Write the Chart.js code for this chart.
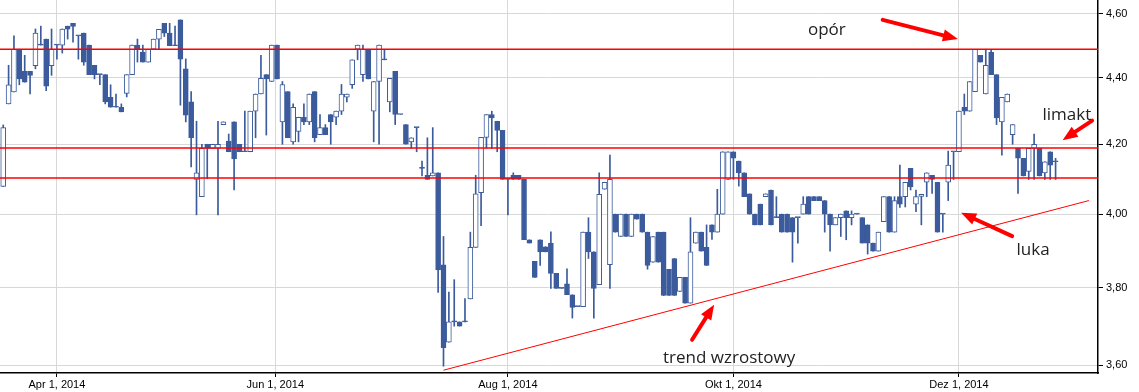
<!DOCTYPE html>
<html><head><meta charset="utf-8">
<script src="https://cdn.jsdelivr.net/npm/chart.js@4.4.1/dist/chart.umd.min.js"></script>
<style>html,body{margin:0;padding:0;background:#fff}canvas{display:block}</style>
</head><body>
<canvas id="c" width="1139" height="392"></canvas>
<script>
// Daily candles (trading-day index 0 = 18 Mar 2014)
const openP = [
4.078,4.32,4.356,4.488,4.419,4.419,4.437,4.501,4.52,4.437,
4.501,4.501,4.561,4.57,4.53,4.539,4.501,4.438,4.409,4.409,
4.34,4.31,4.31,4.352,4.409,4.501,4.479,4.448,4.488,4.52,
4.57,4.539,4.499,4.581,4.427,4.326,4.098,4.049,4.2,4.188,
4.188,4.258,4.209,4.266,4.2,4.178,4.178,4.298,4.35,4.409,
4.388,4.501,4.266,4.357,4.207,4.238,4.28,4.266,4.357,4.228,
4.249,4.288,4.28,4.298,4.34,4.378,4.488,4.409,4.488,4.298,
4.388,4.455,4.326,4.419,4.288,4.258,4.207,4.249,4.13,4.11,
4.108,4.117,3.861,3.658,3.71,3.71,3.71,3.77,3.908,4.06,
4.22,4.288,4.268,4.241,4.098,4.11,4.11,4.098,3.929,3.87,
3.929,3.91,3.92,3.838,3.798,3.81,3.781,3.75,3.75,3.95,
3.896,3.808,4.07,3.861,4.0,3.938,4.0,3.938,4.0,4.0,
3.95,3.868,3.95,3.95,3.849,3.878,3.79,3.827,3.759,3.92,
3.95,3.908,3.97,3.95,4.0,4.098,4.178,4.151,4.117,4.057,
4.0,4.028,4.049,4.068,3.99,4.0,4.0,3.99,3.99,4.0,
4.049,4.049,4.049,4.038,4.0,3.97,3.99,4.009,3.99,4.0,
3.99,3.97,3.92,3.898,3.979,4.049,3.95,4.049,4.049,4.13,
4.028,4.05,4.09,4.11,4.09,4.0,4.09,4.178,4.178,4.31,
4.298,4.357,4.469,4.35,4.478,4.409,4.266,4.326,4.228,4.188,
4.159,4.121,4.188,4.188,4.117,4.178,4.149];
const highP = [
4.257,4.438,4.53,4.488,4.469,4.419,4.552,4.561,4.52,4.552,
4.501,4.552,4.561,4.57,4.53,4.539,4.501,4.438,4.409,4.409,
4.378,4.35,4.32,4.409,4.501,4.52,4.501,4.488,4.52,4.551,
4.57,4.57,4.561,4.581,4.458,4.357,4.268,4.2,4.2,4.2,
4.268,4.266,4.23,4.266,4.2,4.298,4.298,4.35,4.469,4.409,
4.501,4.501,4.388,4.357,4.32,4.28,4.32,4.35,4.357,4.288,
4.258,4.288,4.298,4.379,4.35,4.455,4.501,4.501,4.488,4.388,
4.501,4.488,4.398,4.419,4.288,4.258,4.219,4.249,4.151,4.219,
4.249,4.117,3.938,3.788,3.821,3.71,3.771,3.95,4.11,4.22,
4.288,4.298,4.268,4.241,4.098,4.117,4.11,4.098,3.929,3.87,
3.929,3.91,3.951,3.838,3.798,3.85,3.781,3.75,3.95,3.99,
3.896,4.117,4.09,4.168,4.0,4.0,4.0,4.0,4.0,4.0,
3.95,3.938,3.95,3.95,3.849,3.878,3.827,3.827,3.99,3.95,
3.95,3.97,3.97,4.07,4.178,4.178,4.178,4.151,4.117,4.057,
4.0,4.028,4.057,4.068,4.049,4.0,4.0,3.99,3.99,4.049,
4.049,4.049,4.049,4.038,4.0,3.99,4.0,4.009,4.009,4.0,
3.99,3.97,3.92,3.95,4.049,4.049,4.049,4.139,4.09,4.13,
4.068,4.056,4.117,4.11,4.09,4.0,4.18,4.178,4.298,4.35,
4.388,4.488,4.469,4.488,4.488,4.409,4.34,4.35,4.258,4.188,
4.159,4.188,4.23,4.188,4.149,4.178,4.159];
const lowP = [
4.078,4.32,4.356,4.378,4.386,4.35,4.427,4.501,4.36,4.407,
4.457,4.476,4.52,4.51,4.457,4.438,4.409,4.396,4.378,4.32,
4.31,4.31,4.296,4.341,4.409,4.448,4.448,4.448,4.488,4.488,
4.528,4.499,4.499,4.316,4.266,4.134,3.998,4.049,4.1,4.188,
3.998,4.258,4.178,4.068,4.178,4.178,4.178,4.219,4.35,4.227,
4.388,4.396,4.2,4.219,4.2,4.207,4.258,4.258,4.207,4.228,
4.228,4.2,4.258,4.288,4.326,4.367,4.455,4.388,4.396,4.207,
4.2,4.455,4.296,4.258,4.288,4.2,4.188,4.178,4.108,4.098,
4.108,3.787,3.597,3.658,3.699,3.699,3.71,3.77,3.908,3.968,
4.188,4.188,4.178,4.098,3.998,4.098,4.098,3.929,3.92,3.827,
3.859,3.896,3.798,3.798,3.798,3.781,3.72,3.75,3.75,3.878,
3.72,3.808,4.07,3.798,3.95,3.938,3.938,3.938,3.986,3.95,
3.849,3.868,3.868,3.779,3.779,3.779,3.79,3.759,3.759,3.92,
3.898,3.859,3.93,3.95,4.0,4.098,4.098,4.079,4.049,4.0,
3.97,3.97,4.049,3.97,3.99,3.95,3.95,3.868,3.92,4.0,
4.0,4.038,4.038,3.95,3.898,3.97,3.938,3.929,3.97,4.0,
3.92,3.89,3.898,3.898,3.979,3.95,3.95,4.019,4.02,4.068,
4.007,3.97,4.049,4.058,3.95,3.95,4.038,4.098,4.178,4.288,
4.298,4.357,4.448,4.35,4.409,4.258,4.168,4.326,4.2,4.058,
4.108,4.098,4.098,4.108,4.098,4.098,4.098];
const closeP = [
4.249,4.378,4.488,4.396,4.386,4.407,4.539,4.501,4.374,4.488,
4.501,4.552,4.551,4.56,4.53,4.448,4.409,4.409,4.409,4.326,
4.31,4.31,4.296,4.409,4.501,4.488,4.448,4.488,4.52,4.551,
4.539,4.499,4.499,4.457,4.286,4.219,4.117,4.188,4.188,4.2,
4.2,4.266,4.178,4.157,4.178,4.178,4.298,4.35,4.398,4.396,
4.501,4.396,4.379,4.219,4.31,4.28,4.266,4.35,4.219,4.249,
4.228,4.266,4.298,4.35,4.35,4.455,4.501,4.488,4.396,4.388,
4.501,4.455,4.398,4.288,4.288,4.2,4.219,4.249,4.13,4.098,
4.117,3.847,3.644,3.71,3.71,3.699,3.71,3.908,4.057,4.22,
4.288,4.278,4.241,4.098,4.098,4.098,4.098,3.929,3.92,3.827,
3.896,3.896,3.838,3.798,3.798,3.781,3.748,3.75,3.95,3.896,
3.798,4.056,4.09,4.098,3.95,4.0,3.938,4.0,3.986,3.95,
3.859,3.938,3.868,3.779,3.779,3.779,3.827,3.759,3.896,3.95,
3.898,3.859,3.95,4.0,4.178,4.178,4.159,4.117,4.049,4.0,
3.97,3.97,4.057,3.97,3.99,3.95,3.95,3.95,3.99,4.028,
4.0,4.038,4.038,4.0,3.97,3.99,4.0,3.99,4.0,4.0,
3.92,3.92,3.898,3.95,4.049,3.95,4.038,4.028,4.09,4.077,
4.049,4.056,4.117,4.098,3.95,4.0,4.139,4.178,4.298,4.298,
4.388,4.488,4.448,4.438,4.409,4.278,4.34,4.35,4.258,4.159,
4.108,4.188,4.2,4.108,4.149,4.139,4.149];

// Axis ticks
const xTickAt = [10, 50.67, 94, 136, 178];
const xTickLabels = ["Apr 1, 2014", "Jun 1, 2014", "Aug 1, 2014", "Okt 1, 2014", "Dez 1, 2014"];
const yTickValues = [3.6, 3.8, 4.0, 4.2, 4.4, 4.6];

// Horizontal levels and trend line
const levels = [4.488, 4.189, 4.102];
const trendX = [82, 202.2];
const trendY = [3.587, 4.038];

// Annotations (data coordinates)
const notes = [
  {text: "opór", x: 153.4, y: 4.533},
  {text: "limakt", x: 198.1, y: 4.271},
  {text: "luka", x: 191.8, y: 3.888},
  {text: "trend wzrostowy", x: 135.2, y: 3.604}
];
const arrows = [
  {x1: 163.8, y1: 4.581, x2: 177.8, y2: 4.52},
  {x1: 202.8, y1: 4.27, x2: 197.3, y2: 4.212},
  {x1: 187.9, y1: 3.939, x2: 178.4, y2: 4.004},
  {x1: 128.3, y1: 3.664, x2: 132.4, y2: 3.755}
];

const X_MIN = -0.6, X_MAX = 203.9, Y_MIN = 3.58, Y_MAX = 4.645;
const BLUE = '#3b5b9c';

const idx = openP.map((_, i) => i);
const bodyData = idx.map(i => ({x: i, y: [openP[i], closeP[i]]}));
const wickData = idx.map(i => ({x: i, y: [lowP[i], highP[i]]}));
const bodyFill = idx.map(i => closeP[i] > openP[i] ? '#ffffff' : BLUE);

const levelSets = levels.map(v => ({
  type: 'line', data: [{x: X_MIN, y: v}, {x: X_MAX, y: v}],
  borderColor: '#ff0000', borderWidth: 1.4, pointRadius: 0, order: -1
}));

const annotPlugin = {
  id: 'annot',
  afterDatasetsDraw(chart) {
    const ctx = chart.ctx, xs = chart.scales.x, ys = chart.scales.y;
    ctx.save();
    ctx.fillStyle = '#ff0000';
    ctx.strokeStyle = '#ff0000';
    ctx.lineCap = 'round';
    arrows.forEach(a => {
      const x1 = xs.getPixelForValue(a.x1), y1 = ys.getPixelForValue(a.y1);
      const x2 = xs.getPixelForValue(a.x2), y2 = ys.getPixelForValue(a.y2);
      const ang = Math.atan2(y2 - y1, x2 - x1);
      const hl = 15, hw = 6;
      const bx = x2 - hl * Math.cos(ang), by = y2 - hl * Math.sin(ang);
      ctx.lineWidth = 4;
      ctx.beginPath(); ctx.moveTo(x1, y1); ctx.lineTo(bx, by); ctx.stroke();
      ctx.beginPath();
      ctx.moveTo(x2, y2);
      ctx.lineTo(bx + hw * Math.sin(ang), by - hw * Math.cos(ang));
      ctx.lineTo(bx - hw * Math.sin(ang), by + hw * Math.cos(ang));
      ctx.closePath(); ctx.fill();
    });
    ctx.fillStyle = '#222222';
    ctx.font = '17px "Open Sans"';
    ctx.textAlign = 'center';
    ctx.textBaseline = 'alphabetic';
    notes.forEach(n => {
      ctx.fillText(n.text, xs.getPixelForValue(n.x), ys.getPixelForValue(n.y));
    });
    ctx.restore();
  }
};

new Chart(document.getElementById('c'), {
  type: 'bar',
  data: {
    datasets: [
      {type: 'bar', data: bodyData, backgroundColor: bodyFill, borderColor: BLUE,
       borderWidth: 1, borderSkipped: false, barThickness: 5, minBarLength: 1,
       grouped: false, order: 0},
      {type: 'bar', data: wickData, backgroundColor: BLUE, borderWidth: 0,
       barThickness: 1, grouped: false, order: 1},
      ...levelSets,
      {type: 'line', data: [{x: trendX[0], y: trendY[0]}, {x: trendX[1], y: trendY[1]}],
       borderColor: '#ff0000', borderWidth: 1, pointRadius: 0, order: -1}
    ]
  },
  options: {
    responsive: false, animation: false, devicePixelRatio: 1,
    layout: {padding: 0},
    plugins: {legend: {display: false}, tooltip: {enabled: false}},
    scales: {
      x: {
        type: 'linear', min: X_MIN, max: X_MAX, offset: false,
        afterBuildTicks: s => { s.ticks = xTickAt.map(v => ({value: v})); },
        afterFit: s => { s.height = 19; s.paddingLeft = 0; s.paddingRight = 0; },
        ticks: {autoSkip: false, maxRotation: 0, padding: 1, color: '#000',
          font: {family: 'Liberation Sans', size: 11},
          callback: (v, i) => xTickLabels[i]},
        grid: {offset: false, color: '#d8d8d8', lineWidth: 1, tickLength: 4, tickColor: '#000', drawTicks: true},
        border: {display: true, color: '#000', width: 1.5}
      },
      y: {
        type: 'logarithmic', position: 'right', min: Y_MIN, max: Y_MAX,
        afterBuildTicks: s => { s.ticks = yTickValues.map(v => ({value: v})); },
        afterFit: s => { s.width = 41; s.paddingTop = 0; s.paddingBottom = 0; },
        ticks: {padding: 3, color: '#000', font: {family: 'Liberation Sans', size: 11},
          callback: v => Number(v).toFixed(2).replace('.', ',')},
        grid: {color: '#d8d8d8', lineWidth: 1, tickLength: 5, tickColor: '#000', drawTicks: true},
        border: {display: true, color: '#000', width: 1.5}
      }
    }
  },
  plugins: [annotPlugin]
});
</script>
</body></html>
